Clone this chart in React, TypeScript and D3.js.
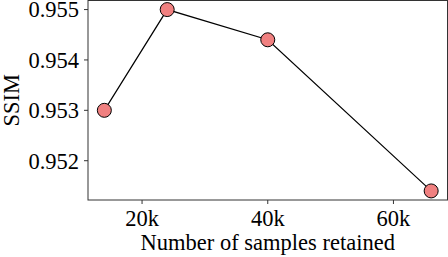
import React from "react";
import * as d3 from "d3";

const samplesK = [14, 24, 40, 66];
const ssim = [0.953, 0.955, 0.9544, 0.9514];
const xTicks = [20, 40, 60];
const yTicks = [0.952, 0.953, 0.954, 0.955];

export default function App() {
  const W = 448, H = 257;
  const left = 88, right = 447.5, top = 0.5, bottom = 200;
  const xPad = (66 - 14) * 0.05;
  const yPad = (0.955 - 0.9514) * 0.05;
  const x = d3.scaleLinear().domain([14 - xPad, 66 + xPad]).range([left, right]);
  const y = d3.scaleLinear().domain([0.9514 - yPad, 0.955 + yPad]).range([bottom, top]);
  const line = d3.line<number>().x((_, i) => x(samplesK[i])).y((d) => y(d));
  const font = "'Liberation Serif', 'Times New Roman', serif";
  const fs = 22.5;
  return (
    <svg width={W} height={H} style={{ position: "absolute", left: 0, top: 0 }} fontFamily={font}>
      <rect x={left} y={top} width={right - left} height={bottom - top} fill="white" stroke="#333" strokeWidth={1} />
      {yTicks.map((t) => (
        <g key={t}>
          <line x1={left - 4} x2={left} y1={y(t)} y2={y(t)} stroke="#333" strokeWidth={1} />
          <text x={left - 9} y={y(t)} dy="0.35em" textAnchor="end" fontSize={fs}>{t.toFixed(3)}</text>
        </g>
      ))}
      {xTicks.map((t) => (
        <g key={t}>
          <line x1={x(t)} x2={x(t)} y1={bottom} y2={bottom + 4} stroke="#333" strokeWidth={1} />
          <text x={x(t)} y={226} textAnchor="middle" fontSize={fs}>{t}k</text>
        </g>
      ))}
      <text x={(left + right) / 2} y={250} textAnchor="middle" fontSize={fs}>Number of samples retained</text>
      <text transform={`translate(19,${(top + bottom) / 2}) rotate(-90)`} textAnchor="middle" fontSize={fs}>SSIM</text>
      <path d={line(ssim) || ""} fill="none" stroke="black" strokeWidth={1.2} />
      {ssim.map((v, i) => (
        <circle key={i} cx={x(samplesK[i])} cy={y(v)} r={7} fill="#F08080" stroke="black" strokeWidth={1} />
      ))}
    </svg>
  );
}
